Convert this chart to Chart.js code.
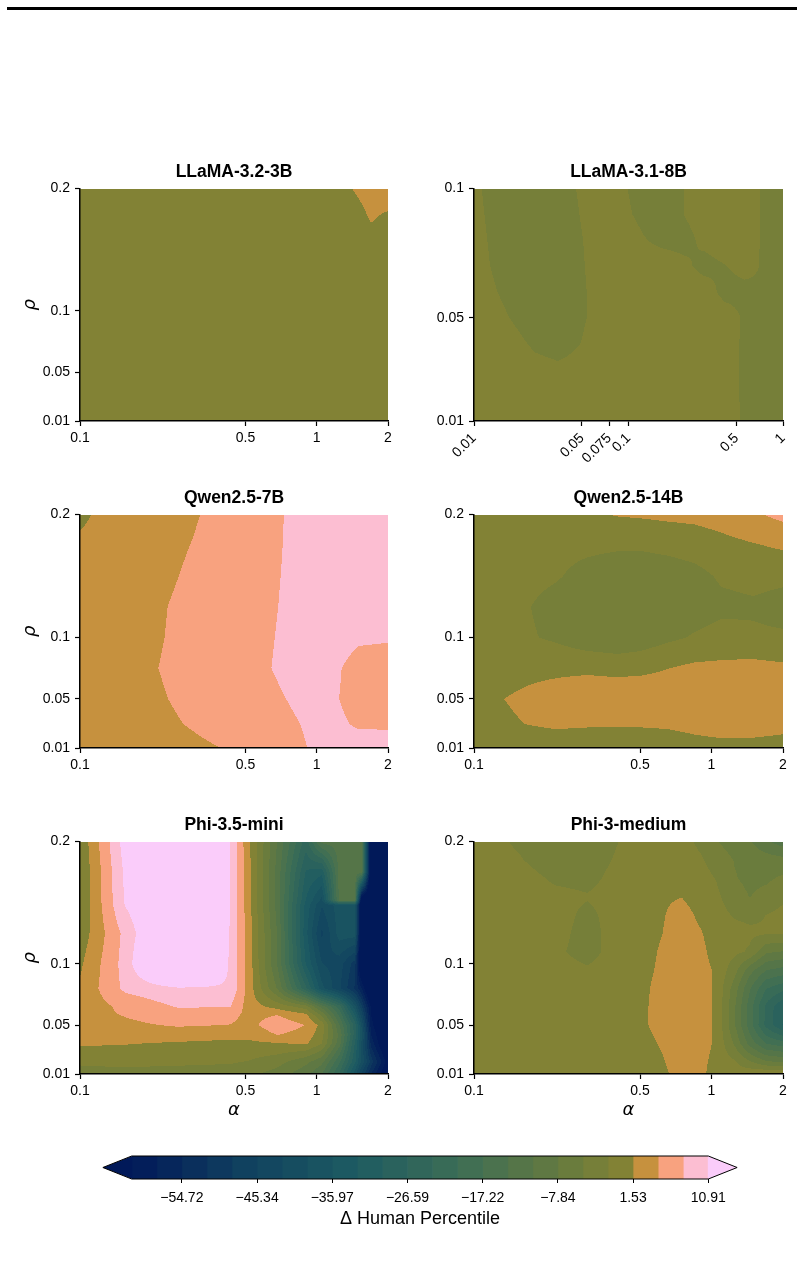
<!DOCTYPE html>
<html>
<head>
<meta charset="utf-8">
<title>Δ Human Percentile over α and ρ</title>
<script src="https://cdn.jsdelivr.net/npm/chart.js@4.4.1/dist/chart.umd.min.js"></script>
<style>
  html, body { margin: 0; padding: 0; background: #fff; }
  #page { position: relative; width: 804px; height: 1262px; overflow: hidden; background: #fff; }
  #page canvas { position: absolute; }
  #rule { position: absolute; left: 7px; top: 7px; width: 790px; height: 3px; background: #000; }
</style>
</head>
<body>
<div id="page">
  <div id="rule"></div>
  <canvas id="p0" width="402" height="333" style="left:0px;top:148px"></canvas>
  <canvas id="p1" width="402" height="333" style="left:402px;top:148px"></canvas>
  <canvas id="p2" width="402" height="334" style="left:0px;top:474px"></canvas>
  <canvas id="p3" width="402" height="334" style="left:402px;top:474px"></canvas>
  <canvas id="p4" width="402" height="333" style="left:0px;top:801px"></canvas>
  <canvas id="p5" width="402" height="333" style="left:402px;top:801px"></canvas>
  <canvas id="cbar" width="804" height="104" style="left:0px;top:1130px"></canvas>
</div>
<script>
// --- Data ---

// contour levels of the colour bar (Δ human percentile)
const levels = [-60.97, -57.84, -54.72, -51.59, -48.47, -45.34, -42.22, -39.09,
                -35.97, -32.84, -29.72, -26.59, -23.47, -20.34, -17.22, -14.09,
                -10.97, -7.84, -4.72, -1.59, 1.53, 4.66, 7.79, 10.91];
const cbTicks = [-54.72, -45.34, -35.97, -26.59, -17.22, -7.84, 1.53, 10.91];

// axis ticks
const alphaTicks = [0.1, 0.5, 1, 2];
const rhoTicks = [0.01, 0.05, 0.1, 0.2];
const alphaTicks8B = [0.01, 0.05, 0.075, 0.1, 0.5, 1];
const rhoTicks8B = [0.01, 0.05, 0.1];

// grids: one row per rho (highest rho first), one column per alpha

// LLaMA-3.2-3B
const llama3bAlpha = [0.1, 0.5, 1, 1.4, 1.7, 2];
const llama3bRho = [0.2, 0.175, 0.15, 0.01];
const llama3bZ = [
  [0.3, 0.2, 0.6, 1.5, 2.5, 3.0],
  [0.1, 0.0, 0.2, 0.3, 1.7, 1.0],
  [-0.2, -0.1, 0.0, 0.1, 0.2, 0.1],
  [-0.3, -0.2, -0.1, 0.0, 0.1, 0.0]
];

// LLaMA-3.1-8B
const llama8bAlpha = [0.01, 0.0125, 0.017, 0.025, 0.035, 0.05, 0.07, 0.095, 0.125, 0.17, 0.23, 0.31, 0.42, 0.56, 0.75, 1];
const llama8bRho = [0.1, 0.09, 0.08, 0.07, 0.06, 0.05, 0.04, 0.03, 0.02, 0.01];
const llama8bZ = [
  [-1.05, -2.10, -3.5, -3.5, -2.85, -1.18, 0.0, -1.42, -2.71, -2.95, -1.53, -0.13, 0.8, -0.5, -1.87, -3.2],
  [-0.86, -1.91, -3.34, -3.5, -3.09, -1.41, 0.16, -1.08, -2.37, -2.95, -1.53, -0.13, 0.8, -0.5, -1.87, -3.2],
  [-0.66, -1.71, -3.15, -3.5, -3.34, -1.67, -0.09, -0.05, -1.38, -2.5, -2.6, -0.82, 0.16, -0.5, -1.87, -3.2],
  [-0.46, -1.51, -2.96, -3.5, -3.47, -1.79, -0.22, 0.8, 0.23, 0.2, -0.9, -2.6, -1.7, -0.68, -1.87, -3.2],
  [0.05, -1.0, -2.44, -3.5, -3.5, -1.92, -0.34, 0.8, 0.8, 0.8, 0.37, 0.0, -2.6, -2.4, -1.87, -3.2],
  [0.8, -0.17, -1.61, -3.41, -3.5, -1.92, -0.34, 0.8, 0.8, 0.8, 0.8, 0.8, 0.0, -1.97, -3.34, -3.5],
  [0.8, 0.8, -0.36, -2.16, -2.78, -1.51, 0.06, 0.8, 0.8, 0.8, 0.8, 0.8, -0.59, -1.93, -3.3, -3.5],
  [0.8, 0.8, 0.5, -0.54, -1.03, -0.54, 0.8, 0.8, 0.8, 0.8, 0.8, 0.8, -0.55, -1.92, -3.3, -3.5],
  [0.8, 0.8, 0.8, 0.8, 0.8, 0.8, 0.8, 0.8, 0.8, 0.8, 0.8, 0.8, -0.55, -1.92, -3.3, -3.5],
  [0.8, 0.8, 0.8, 0.8, 0.8, 0.8, 0.8, 0.8, 0.8, 0.8, 0.8, 0.8, -0.55, -1.9, -3.3, -3.5]
];

// Qwen2.5-7B and Qwen2.5-14B share the same sampling
const qwenAlpha = [0.1, 0.13, 0.17, 0.22, 0.3, 0.4, 0.5, 0.65, 0.85, 1.1, 1.5, 2];
const qwenRho = [0.2, 0.175, 0.15, 0.125, 0.1, 0.075, 0.05, 0.03, 0.01];
const qwen7bZ = [
  [1.0, 2.27, 2.95, 3.62, 4.41, 5.44, 6.35, 7.41, 8.33, 9.12, 9.5, 9.8],
  [2.0, 2.57, 3.26, 3.92, 4.74, 5.75, 6.54, 7.47, 8.33, 9.13, 9.6, 9.8],
  [2.15, 2.82, 3.51, 4.17, 5.05, 5.98, 6.70, 7.54, 8.38, 9.17, 9.6, 9.8],
  [2.46, 3.13, 3.82, 4.48, 5.36, 6.21, 6.86, 7.62, 8.44, 9.23, 9.2, 8.9],
  [2.53, 3.20, 3.89, 4.56, 5.45, 6.30, 6.95, 7.72, 8.54, 9.0, 8.1, 8.0],
  [2.70, 3.37, 4.06, 4.73, 5.61, 6.43, 7.06, 7.82, 8.65, 8.5, 7.0, 6.8],
  [2.46, 3.13, 3.82, 4.48, 5.31, 6.09, 6.70, 7.41, 8.18, 8.3, 7.0, 6.8],
  [2.09, 2.76, 3.45, 4.11, 4.92, 5.72, 6.33, 7.05, 7.79, 8.5, 7.5, 7.4],
  [1.9, 2.37, 2.92, 3.45, 4.08, 4.69, 5.54, 6.54, 7.56, 8.4, 8.8, 8.9]
];
const qwen14bZ = [
  [0.0, 0.0, 0.0, 0.3, 1.0, 1.7, 1.9, 2.2, 2.4, 3.0, 4.2, 5.5],
  [0.0, 0.0, -0.5, -0.8, -1.0, -1.2, -1.2, -0.8, -0.3, 0.5, 1.3, 2.0],
  [0.0, -0.3, -0.8, -1.3, -2.5, -3.2, -3.4, -3.2, -2.5, -1.2, -0.8, -1.0],
  [0.0, -0.5, -1.5, -2.6, -3.3, -3.6, -3.6, -3.4, -3.0, -2.3, -2.0, -2.6],
  [0.0, -0.3, -1.3, -2.06, -3.45, -4.0, -3.35, -2.24, -1.3, -0.5, -1.1, -1.2],
  [0.0, 0.2, 0.7, 0.8, 0.8, 0.5, 0.6, 1.45, 2.21, 2.26, 2.63, 2.14],
  [0.0, 1.45, 2.2, 2.99, 4.07, 4.0, 4.32, 4.0, 3.5, 3.5, 3.5, 3.3],
  [0.0, 1.0, 1.65, 2.0, 1.9, 1.8, 1.9, 2.1, 2.5, 2.8, 2.8, 2.5],
  [0.0, 0.0, -0.23, 0.0, -0.34, -0.37, -0.45, -0.42, 0.39, 0.69, 0.62, 0.31]
];

// Phi-3.5-mini
const phiMiniAlpha = [0.1, 0.155, 0.26, 0.43, 0.52, 0.68, 0.9, 1.05, 1.25, 1.45, 1.55, 1.7, 2];
const phiMiniRho = [0.2, 0.175, 0.152, 0.148, 0.125, 0.1, 0.08, 0.065, 0.058, 0.05, 0.042, 0.035, 0.02, 0.01];
const phiMiniZ = [
  [-0.92, 12.4, 15, 10.95, 1.8, -11, -25, -13, -12.5, -12.5, -12.5, -70, -70],
  [-1.3, 11.5, 16, 10.95, 2.2, -12, -30, -32, -12.5, -12.5, -12.5, -70, -70],
  [-1.2, 11.2, 17, 10.95, 2.4, -12, -33, -40, -12.5, -12.5, -70, -70, -70],
  [-1.2, 11.0, 17.5, 10.95, 2.4, -12, -34, -42, -37.5, -37.5, -70, -70, -70],
  [-0.38, 8.69, 19.4, 10.8, 2.8, -11, -35, -46, -37.5, -37.5, -70, -70, -70],
  [1.0, 9.0, 23.5, 10.5, 3.0, -11, -33, -42, -44, -50, -70, -70, -70],
  [2.03, 8.5, 10.5, 10.5, 3.0, -8, -26, -38, -45, -52, -58, -70, -70],
  [2.5, 5.5, 8.0, 7.9, 3.0, 0.5, -3, -12, -22, -38, -48, -62, -70],
  [3.5, 4.8, 6.5, 5.5, 3.8, 4.7, 2.5, -5, -18, -33, -44, -61, -69],
  [3.0, 4.0, 5.0, 4.6, 3.8, 6.5, 4.6, 0.5, -14, -28, -40, -60, -68],
  [2.8, 3.0, 3.0, 2.5, 2.5, 4.7, 3.5, -0.5, -12, -28, -38, -58, -68],
  [2.0, 1.7, 1.2, 0.8, 0.9, 1.3, 2.0, -1.5, -13, -30, -40, -56, -68],
  [-1.2, -0.8, -1.0, -1.2, -1.8, -3.5, -7, -10, -20, -32, -40, -50, -63],
  [-2.5, -2.6, -2.8, -3.3, -4, -6, -10, -14, -24, -38, -46, -55, -66]
];

// Phi-3-medium
const phiMedAlpha = [0.1, 0.15, 0.22, 0.3, 0.4, 0.5, 0.62, 0.75, 0.9, 1.05, 1.25, 1.45, 1.7, 2];
const phiMedRho = [0.2, 0.185, 0.17, 0.155, 0.14, 0.125, 0.11, 0.095, 0.08, 0.065, 0.05, 0.035, 0.02, 0.01];
const phiMedZ = [
  [1.0, -2.1, -4.0, -4.0, -1.73, 0.1, 1.0, -0.5, -2.32, -4.6, -6.18, -7.49, -10.6, -12.5],
  [1.0, -0.99, -4.0, -3.51, -1.17, 0.3, 0.5, 0.29, -1.21, -2.94, -4.86, -5.52, -6.21, -6.92],
  [1.0, 0.5, -2.28, -2.71, -0.39, 0.6, 0.8, 0.3, -0.41, -1.75, -4.5, -5.5, -5.3, -4.2],
  [0.5, 0.6, -0.5, -1.3, 0.0, 0.5, 1.0, 1.45, -0.3, -1.0, -3.4, -4.8, -3.67, -2.15],
  [0.3, 0.5, 0.0, -2.5, 0.0, 0.6, 1.24, 3.0, 0.75, -0.4, -1.9, -2.3, -1.55, -0.8],
  [0.3, 0.4, -0.3, -3.0, 0.0, 0.6, 1.5, 3.2, 1.8, -0.3, -0.5, -1.0, -1.3, -1.45],
  [0.3, 0.4, -1.0, -2.8, -0.2, 0.6, 1.8, 3.3, 2.5, 0.0, -0.8, -2.0, -7.26, -8.0],
  [0.3, 0.4, -0.2, -1.2, 0.0, 0.7, 2.0, 3.4, 2.8, 1.0, -3.5, -9.7, -14.0, -15.2],
  [0.3, 0.4, 0.0, -0.3, 0.2, 0.9, 2.3, 3.5, 3.0, 1.0, -6.3, -13.8, -20.2, -22.4],
  [0.3, 0.4, 0.1, 0.0, 0.3, 1.0, 2.4, 3.5, 3.0, 1.0, -7.45, -15.7, -24.3, -29.5],
  [0.3, 0.4, 0.2, 0.1, 0.3, 1.0, 2.4, 3.5, 3.0, 1.0, -7.5, -15.8, -24.4, -29.9],
  [0.3, 0.4, 0.2, 0.1, 0.3, 0.6, 1.8, 3.2, 2.8, 1.0, -5.2, -12.1, -17.4, -19.0],
  [0.3, 0.4, 0.2, 0.1, 0.2, 0.4, 1.3, 2.8, 2.4, 0.5, -1.2, -4.4, -7.45, -8.2],
  [0.3, 0.4, 0.2, 0.1, 0.2, 0.4, 1.0, 2.5, 2.2, 0.2, -0.3, 0.8, 1.6, 1.8]
];

// --- Colours (batlow, two-slope norm centred on 0) ---

const FONT = "'Liberation Sans', Arial, Helvetica, sans-serif";
const MATH_FONT = "'DejaVu Sans', sans-serif";
const batlow = ['#011959', '#10405F', '#1C5A62', '#3C6D56', '#687B3E',
                '#9D892B', '#D29343', '#F8A17B', '#FDB7BC', '#FACCFA'];
const batlowRgb = batlow.map(h => [1, 3, 5].map(i => parseInt(h.slice(i, i + 2), 16)));

function cmap(t) {
  t = Math.max(0, Math.min(1, t));
  const s = t * (batlowRgb.length - 1);
  const i = Math.min(Math.floor(s), batlowRgb.length - 2);
  const f = s - i;
  const a = batlowRgb[i], b = batlowRgb[i + 1];
  return [0, 1, 2].map(k => Math.round(a[k] + (b[k] - a[k]) * f));
}

const vmin = levels[0], vmax = levels[levels.length - 1];
function norm(v) {
  return v < 0 ? 0.5 * (v - vmin) / (0 - vmin) : 0.5 + 0.5 * v / vmax;
}

// under colour, one colour per band, over colour
const bandRgb = [cmap(0)];
for (let k = 0; k < levels.length - 1; k++) bandRgb.push(cmap(norm((levels[k] + levels[k + 1]) / 2)));
bandRgb.push(cmap(1));
const rgb = c => `rgb(${c[0]},${c[1]},${c[2]})`;

function bandIndex(v) {
  let k = 0;
  while (k < levels.length && v >= levels[k]) k++;
  return k;
}

// --- Filled contour plugin: grid nodes placed with the chart's scales ---

function contourPlugin(grid) {
  return {
    id: 'contour',
    beforeDraw(chart) {
      const { ctx, chartArea: a, scales } = chart;
      const xs = grid.alpha.map(v => scales.x.getPixelForValue(v));
      const ys = grid.rho.map(v => scales.y.getPixelForValue(v));
      const left = Math.round(a.left), top = Math.round(a.top);
      const w = Math.round(a.right) - left, h = Math.round(a.bottom) - top;

      const lookup = (nodes, p) => {
        let j = 0;
        while (j < nodes.length - 2 && p > nodes[j + 1]) j++;
        const f = (p - nodes[j]) / (nodes[j + 1] - nodes[j]);
        return [j, Math.min(1, Math.max(0, f))];
      };
      const cols = [], rows = [];
      for (let i = 0; i < w; i++) cols.push(lookup(xs, left + i + 0.5));
      for (let r = 0; r < h; r++) rows.push(lookup(ys, top + r + 0.5));

      const off = document.createElement('canvas');
      off.width = w; off.height = h;
      const octx = off.getContext('2d');
      const img = octx.createImageData(w, h);
      const z = grid.z;
      let p = 0;
      for (let r = 0; r < h; r++) {
        const [ri, fy] = rows[r];
        const za = z[ri], zb = z[ri + 1];
        for (let i = 0; i < w; i++) {
          const [ci, fx] = cols[i];
          const up = za[ci] + (za[ci + 1] - za[ci]) * fx;
          const dn = zb[ci] + (zb[ci + 1] - zb[ci]) * fx;
          const c = bandRgb[bandIndex(up + (dn - up) * fy)];
          img.data[p++] = c[0]; img.data[p++] = c[1]; img.data[p++] = c[2]; img.data[p++] = 255;
        }
      }
      octx.putImageData(img, 0, 0);
      ctx.drawImage(off, left, top);
    }
  };
}

Chart.defaults.font.family = FONT;
Chart.defaults.color = '#000';

function makePanel(id, cfg) {
  const tickFont = { family: FONT, size: 14 };
  const labelFont = { family: MATH_FONT, size: 18, style: 'italic' };
  return new Chart(document.getElementById(id), {
    type: 'scatter',
    data: { datasets: [] },
    options: {
      responsive: false,
      animation: false,
      devicePixelRatio: 1,
      layout: { padding: { left: 0, right: cfg.padRight, top: 0, bottom: 0 } },
      plugins: {
        legend: { display: false },
        tooltip: { enabled: false },
        title: {
          display: true, text: cfg.title, fullSize: false, color: '#000',
          font: { family: FONT, size: 17.5, weight: 'bold' },
          padding: { top: 13.6, bottom: 6 }
        }
      },
      scales: {
        x: {
          type: 'logarithmic', min: cfg.xMin, max: cfg.xMax,
          afterBuildTicks: ax => { ax.ticks = cfg.xTicks.map(v => ({ value: v })); },
          afterFit: ax => { ax.height = 60; },
          ticks: {
            autoSkip: false, minRotation: cfg.rot, maxRotation: cfg.rot,
            padding: 4, color: '#000', font: tickFont, callback: v => String(v)
          },
          grid: { drawOnChartArea: false, tickLength: 5, tickColor: '#000', tickWidth: 1.2 },
          border: { display: true, color: '#000', width: 1.5 },
          title: { display: cfg.xLabel, text: 'α', color: '#000', font: labelFont, padding: { top: 0, bottom: 13 } }
        },
        y: {
          type: 'linear', min: cfg.yMin, max: cfg.yMax,
          afterBuildTicks: ax => { ax.ticks = cfg.yTicks.map(v => ({ value: v })); },
          afterFit: ax => { ax.width = cfg.yWidth; },
          ticks: { padding: 5, color: '#000', font: tickFont, callback: v => String(v) },
          grid: { drawOnChartArea: false, tickLength: 5, tickColor: '#000', tickWidth: 1.2 },
          border: { display: true, color: '#000', width: 1.5 },
          title: { display: cfg.yLabel, text: 'ρ', color: '#000', font: labelFont, padding: { top: 20, bottom: 0 } }
        }
      }
    },
    plugins: [contourPlugin(cfg.grid)]
  });
}

const leftCol = { padRight: 14, yWidth: 80 };
const rightCol = { padRight: 21, yWidth: 72 };
const stdAxes = { xMin: 0.1, xMax: 2, yMin: 0.01, yMax: 0.2, xTicks: alphaTicks, yTicks: rhoTicks, rot: 0 };

makePanel('p0', { ...leftCol, ...stdAxes, title: 'LLaMA-3.2-3B', yLabel: true, xLabel: false,
  grid: { alpha: llama3bAlpha, rho: llama3bRho, z: llama3bZ } });
makePanel('p1', { ...rightCol, xMin: 0.01, xMax: 1, yMin: 0.01, yMax: 0.1, xTicks: alphaTicks8B, yTicks: rhoTicks8B, rot: 45,
  title: 'LLaMA-3.1-8B', yLabel: false, xLabel: false,
  grid: { alpha: llama8bAlpha, rho: llama8bRho, z: llama8bZ } });
makePanel('p2', { ...leftCol, ...stdAxes, title: 'Qwen2.5-7B', yLabel: true, xLabel: false,
  grid: { alpha: qwenAlpha, rho: qwenRho, z: qwen7bZ } });
makePanel('p3', { ...rightCol, ...stdAxes, title: 'Qwen2.5-14B', yLabel: false, xLabel: false,
  grid: { alpha: qwenAlpha, rho: qwenRho, z: qwen14bZ } });
makePanel('p4', { ...leftCol, ...stdAxes, title: 'Phi-3.5-mini', yLabel: true, xLabel: true,
  grid: { alpha: phiMiniAlpha, rho: phiMiniRho, z: phiMiniZ } });
makePanel('p5', { ...rightCol, ...stdAxes, title: 'Phi-3-medium', yLabel: false, xLabel: true,
  grid: { alpha: phiMedAlpha, rho: phiMedRho, z: phiMedZ } });

// --- Colour bar: one floating bar per band, triangles for the extends ---

const extendPlugin = {
  id: 'cbExtend',
  afterDatasetsDraw(chart) {
    const { ctx, chartArea: a } = chart;
    const ext = 0.05 * (a.right - a.left);
    const mid = (a.top + a.bottom) / 2;
    ctx.save();
    ctx.fillStyle = rgb(bandRgb[0]);
    ctx.beginPath();
    ctx.moveTo(a.left + 0.5, a.top); ctx.lineTo(a.left - ext, mid); ctx.lineTo(a.left + 0.5, a.bottom);
    ctx.closePath(); ctx.fill();
    ctx.fillStyle = rgb(bandRgb[bandRgb.length - 1]);
    ctx.beginPath();
    ctx.moveTo(a.right - 0.5, a.top); ctx.lineTo(a.right + ext, mid); ctx.lineTo(a.right - 0.5, a.bottom);
    ctx.closePath(); ctx.fill();
    ctx.strokeStyle = '#000';
    ctx.lineWidth = 1;
    ctx.beginPath();
    ctx.moveTo(a.left, a.top); ctx.lineTo(a.right, a.top); ctx.lineTo(a.right + ext, mid);
    ctx.lineTo(a.right, a.bottom); ctx.lineTo(a.left, a.bottom); ctx.lineTo(a.left - ext, mid);
    ctx.closePath(); ctx.stroke();
    ctx.restore();
  }
};

new Chart(document.getElementById('cbar'), {
  type: 'bar',
  data: {
    labels: [''],
    datasets: levels.slice(0, -1).map((lo, k) => ({
      data: [[lo, levels[k + 1]]],
      backgroundColor: rgb(bandRgb[k + 1]),
      borderWidth: 0,
      grouped: false,
      barPercentage: 1,
      categoryPercentage: 1
    }))
  },
  options: {
    indexAxis: 'y',
    responsive: false,
    animation: false,
    devicePixelRatio: 1,
    layout: { padding: { left: 131.7, right: 95.7, top: 26, bottom: 0 } },
    plugins: { legend: { display: false }, tooltip: { enabled: false } },
    scales: {
      x: {
        type: 'linear', min: levels[0], max: levels[levels.length - 1],
        afterBuildTicks: ax => { ax.ticks = cbTicks.map(v => ({ value: v })); },
        afterFit: ax => { ax.height = 55; },
        ticks: {
          padding: 7, color: '#000', font: { family: FONT, size: 14 },
          callback: v => v.toFixed(2).replace('-', '\u2212')
        },
        grid: { drawOnChartArea: false, tickLength: 4, tickColor: '#000', tickWidth: 1 },
        border: { display: false },
        title: { display: true, text: 'Δ Human Percentile', color: '#000',
                 font: { family: FONT, size: 18 }, padding: { top: 0, bottom: 4 } }
      },
      y: { display: false }
    }
  },
  plugins: [extendPlugin]
});
</script>
</body>
</html>
